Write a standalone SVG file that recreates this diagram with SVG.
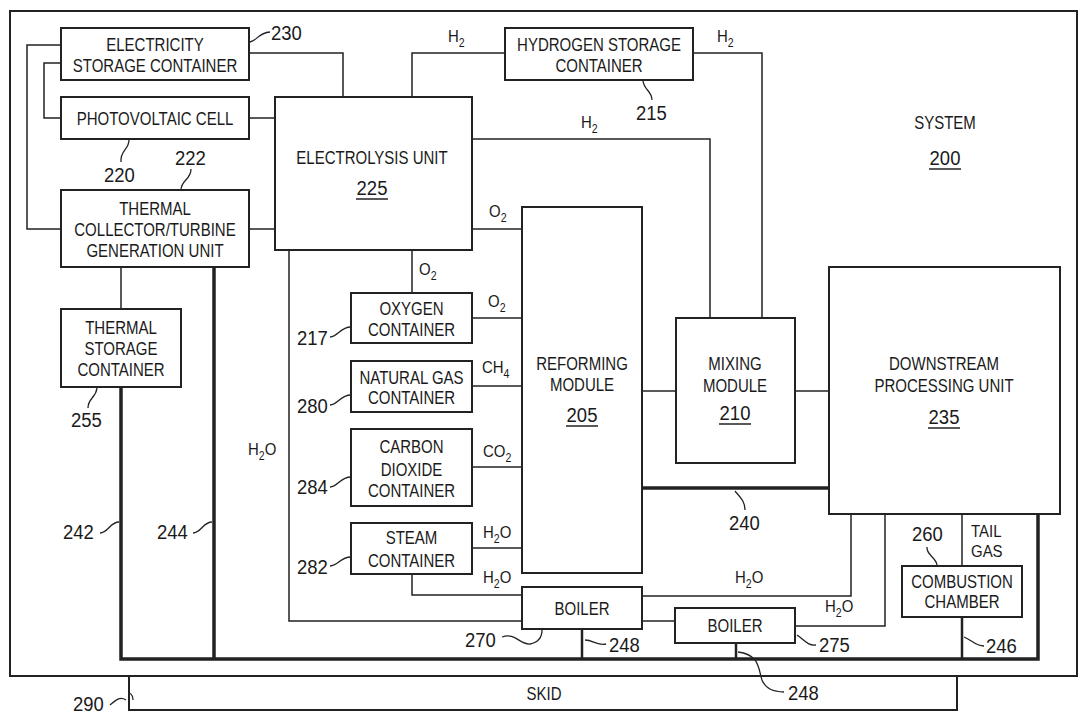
<svg xmlns="http://www.w3.org/2000/svg" width="1084" height="722" viewBox="0 0 1084 722">
<style>
text{font-family:"Liberation Sans",Arial,sans-serif;fill:#1a1a1a}
.t{font-size:19px;text-anchor:middle}
.n{font-size:21px}
.nc{font-size:21px;text-anchor:middle}
.g{font-size:17px}
.s{font-size:12px}
.box{fill:#fff;stroke:#222;stroke-width:2}
.ln{fill:none;stroke:#222;stroke-width:1.5}
.th{fill:none;stroke:#222;stroke-width:3.5}
.md{fill:none;stroke:#222;stroke-width:2.5}
.sq{fill:none;stroke:#222;stroke-width:1.3}
.ul{stroke:#222;stroke-width:1.5}
</style>
<rect width="1084" height="722" fill="#fff"/>
<g id="system">
<rect x="10" y="11" width="1067" height="665" fill="none" stroke="#222" stroke-width="2"/>
<text class="t" transform="translate(945 129) scale(.79 1)">SYSTEM</text>
<text class="nc" transform="translate(945 165) scale(.88 1)">200</text>
<line class="ul" x1="929" y1="169" x2="961" y2="169"/>
</g>
<g id="connectors">
<path class="ln" d="M61,45 H27 V229 H61"/>
<path class="ln" d="M61,63 H44 V118 H61"/>
<path class="ln" d="M249,53 H343 V97"/>
<path class="ln" d="M249,118 H275"/>
<path class="ln" d="M249,229 H275"/>
<path class="ln" d="M412,97 V53 H505"/>
<path class="ln" d="M693,53 H762 V318"/>
<path class="ln" d="M472,139 H710 V318"/>
<path class="ln" d="M472,229 H522"/>
<path class="ln" d="M412,250 V293"/>
<path class="ln" d="M472,318 H522"/>
<path class="ln" d="M472,386 H522"/>
<path class="ln" d="M472,467 H522"/>
<path class="ln" d="M472,548 H522"/>
<path class="ln" d="M412,574 V595 H522"/>
<path class="ln" d="M289,250 V621 H522"/>
<path class="ln" d="M642,391 H676"/>
<path class="ln" d="M795,391 H829"/>
<path class="th" d="M642,488 H829"/>
<path class="ln" d="M642,596 H851 V514"/>
<path class="ln" d="M642,621 H675"/>
<path class="ln" d="M795,626 H885 V514"/>
<path class="ln" d="M962,514 V566"/>
<path class="ln" d="M121,267 V309"/>
<path class="th" d="M214,267 V659"/>
<path class="th" d="M121,387 V659 H1038 V514"/>
<path class="md" d="M582,629 V659"/>
<path class="md" d="M736,643 V659"/>
<path class="md" d="M962,617 V659"/>
</g>
<g id="labels">
<text class="g" transform="translate(448 42) scale(.88 1)">H<tspan class="s" dy="5">2</tspan></text>
<text class="g" transform="translate(717 42) scale(.88 1)">H<tspan class="s" dy="5">2</tspan></text>
<text class="g" transform="translate(581 128) scale(.88 1)">H<tspan class="s" dy="5">2</tspan></text>
<text class="g" transform="translate(489 217) scale(.88 1)">O<tspan class="s" dy="5">2</tspan></text>
<text class="g" transform="translate(419 275) scale(.88 1)">O<tspan class="s" dy="5">2</tspan></text>
<text class="g" transform="translate(488 307) scale(.88 1)">O<tspan class="s" dy="5">2</tspan></text>
<text class="g" transform="translate(482 373) scale(.88 1)">CH<tspan class="s" dy="5">4</tspan></text>
<text class="g" transform="translate(483 457) scale(.88 1)">CO<tspan class="s" dy="5">2</tspan></text>
<text class="g" transform="translate(483 538) scale(.88 1)">H<tspan class="s" dy="5">2</tspan><tspan dy="-5">O</tspan></text>
<text class="g" transform="translate(483 583) scale(.88 1)">H<tspan class="s" dy="5">2</tspan><tspan dy="-5">O</tspan></text>
<text class="g" transform="translate(735 583) scale(.88 1)">H<tspan class="s" dy="5">2</tspan><tspan dy="-5">O</tspan></text>
<text class="g" transform="translate(825 612) scale(.88 1)">H<tspan class="s" dy="5">2</tspan><tspan dy="-5">O</tspan></text>
<text class="g" transform="translate(248 455) scale(.88 1)">H<tspan class="s" dy="5">2</tspan><tspan dy="-5">O</tspan></text>
<text class="g" transform="translate(971 537) scale(.88 1)">TAIL</text>
<text class="g" transform="translate(971 557) scale(.88 1)">GAS</text>
</g>
<g id="refs">
<text class="n" transform="translate(271 40) scale(.88 1)">230</text><path class="sq" d="M250,42 C258,40 258,33 270,32"/>
<text class="n" transform="translate(104 182) scale(.88 1)">220</text><path class="sq" d="M129,140 C129,150 120,150 121,162"/>
<text class="n" transform="translate(175 165) scale(.88 1)">222</text><path class="sq" d="M191,169 C191,180 181,180 181,190"/>
<text class="n" transform="translate(636 120) scale(.88 1)">215</text><path class="sq" d="M643,81 C644,90 652,91 652,100"/>
<text class="n" transform="translate(71 427) scale(.88 1)">255</text><path class="sq" d="M97,388 C96,398 88,398 88,408"/>
<text class="n" transform="translate(297 345) scale(.88 1)">217</text><path class="sq" d="M330,337 C338,337 340,327 351,327"/>
<text class="n" transform="translate(297 413) scale(.88 1)">280</text><path class="sq" d="M330,405 C338,405 340,395 351,395"/>
<text class="n" transform="translate(297 494) scale(.88 1)">284</text><path class="sq" d="M330,487 C338,487 340,477 351,477"/>
<text class="n" transform="translate(297 574) scale(.88 1)">282</text><path class="sq" d="M330,566 C338,566 340,557 351,557"/>
<text class="n" transform="translate(63 539) scale(.88 1)">242</text><path class="sq" d="M100,533 C108,533 110,522 119,522"/>
<text class="n" transform="translate(157 539) scale(.88 1)">244</text><path class="sq" d="M193,533 C201,533 203,522 212,522"/>
<text class="n" transform="translate(729 530) scale(.88 1)">240</text><path class="sq" d="M735,491 C740,497 745,501 745,510"/>
<text class="n" transform="translate(465 647) scale(.88 1)">270</text><path class="sq" d="M502,637 C515,632 520,645 530,644 C540,642 542,636 542,630"/>
<text class="n" transform="translate(609 652) scale(.88 1)">248</text><path class="sq" d="M585,640 C593,640 598,646 606,644"/>
<text class="n" transform="translate(819 652) scale(.88 1)">275</text><path class="sq" d="M797,635 C804,640 808,646 816,645"/>
<text class="n" transform="translate(788 700) scale(.88 1)">248</text><path class="sq" d="M738,652 C760,655 758,668 762,680 C766,690 776,692 784,692"/>
<text class="n" transform="translate(912 541) scale(.88 1)">260</text><path class="sq" d="M927,547 C926,555 936,557 937,565"/>
<text class="n" transform="translate(986 653) scale(.88 1)">246</text><path class="sq" d="M964,637 C972,640 975,646 984,646"/>
<text class="n" transform="translate(73 711) scale(.88 1)">290</text><path class="sq" d="M110,705 C116,700 120,696 126,700 M129,693 C132,694 133,696 133,700"/>
</g>
<g id="n230"><rect class="box" x="61" y="28" width="188" height="52"/><text class="t" transform="translate(155 51) scale(.79 1)">ELECTRICITY</text><text class="t" transform="translate(155 72) scale(.79 1)">STORAGE CONTAINER</text></g>
<g id="n220"><rect class="box" x="61" y="97" width="188" height="42"/><text class="t" transform="translate(155 125) scale(.79 1)">PHOTOVOLTAIC CELL</text></g>
<g id="n222"><rect class="box" x="61" y="190" width="188" height="77"/><text class="t" transform="translate(155 215) scale(.79 1)">THERMAL</text><text class="t" transform="translate(155 236) scale(.79 1)">COLLECTOR/TURBINE</text><text class="t" transform="translate(155 257) scale(.79 1)">GENERATION UNIT</text></g>
<g id="n255"><rect class="box" x="61" y="309" width="120" height="78"/><text class="t" transform="translate(121 334) scale(.79 1)">THERMAL</text><text class="t" transform="translate(121 355) scale(.79 1)">STORAGE</text><text class="t" transform="translate(121 376) scale(.79 1)">CONTAINER</text></g>
<g id="n225"><rect class="box" x="275" y="97" width="197" height="153"/><text class="t" transform="translate(372 164) scale(.79 1)">ELECTROLYSIS UNIT</text><text class="nc" transform="translate(372 195) scale(.88 1)">225</text><line class="ul" x1="356" y1="199" x2="388" y2="199"/></g>
<g id="n215"><rect class="box" x="505" y="28" width="188" height="52"/><text class="t" transform="translate(599 51) scale(.79 1)">HYDROGEN STORAGE</text><text class="t" transform="translate(599 72) scale(.79 1)">CONTAINER</text></g>
<g id="n217"><rect class="box" x="351" y="293" width="121" height="50"/><text class="t" transform="translate(411.5 315) scale(.79 1)">OXYGEN</text><text class="t" transform="translate(411.5 336) scale(.79 1)">CONTAINER</text></g>
<g id="n280"><rect class="box" x="351" y="361" width="121" height="51"/><text class="t" transform="translate(411.5 384) scale(.79 1)">NATURAL GAS</text><text class="t" transform="translate(411.5 404) scale(.79 1)">CONTAINER</text></g>
<g id="n284"><rect class="box" x="351" y="429" width="121" height="77"/><text class="t" transform="translate(411.5 453) scale(.79 1)">CARBON</text><text class="t" transform="translate(411.5 476) scale(.79 1)">DIOXIDE</text><text class="t" transform="translate(411.5 497) scale(.79 1)">CONTAINER</text></g>
<g id="n282"><rect class="box" x="351" y="523" width="121" height="51"/><text class="t" transform="translate(411.5 544) scale(.79 1)">STEAM</text><text class="t" transform="translate(411.5 567) scale(.79 1)">CONTAINER</text></g>
<g id="n205"><rect class="box" x="522" y="207" width="120" height="366"/><text class="t" transform="translate(582 370) scale(.79 1)">REFORMING</text><text class="t" transform="translate(582 391) scale(.79 1)">MODULE</text><text class="nc" transform="translate(582 422) scale(.88 1)">205</text><line class="ul" x1="566" y1="426" x2="598" y2="426"/></g>
<g id="n210"><rect class="box" x="676" y="318" width="119" height="145"/><text class="t" transform="translate(735 370) scale(.79 1)">MIXING</text><text class="t" transform="translate(735 392) scale(.79 1)">MODULE</text><text class="nc" transform="translate(735 420) scale(.88 1)">210</text><line class="ul" x1="719" y1="424" x2="751" y2="424"/></g>
<g id="n235"><rect class="box" x="829" y="267" width="231" height="247"/><text class="t" transform="translate(944 370) scale(.79 1)">DOWNSTREAM</text><text class="t" transform="translate(944 392) scale(.79 1)">PROCESSING UNIT</text><text class="nc" transform="translate(944 424) scale(.88 1)">235</text><line class="ul" x1="928" y1="428" x2="960" y2="428"/></g>
<g id="n270"><rect class="box" x="522" y="587" width="120" height="42"/><text class="t" transform="translate(582 615) scale(.79 1)">BOILER</text></g>
<g id="n275"><rect class="box" x="675" y="608" width="120" height="35"/><text class="t" transform="translate(735 632) scale(.79 1)">BOILER</text></g>
<g id="n260"><rect class="box" x="902" y="566" width="120" height="51"/><text class="t" transform="translate(962 588) scale(.79 1)">COMBUSTION</text><text class="t" transform="translate(962 608) scale(.79 1)">CHAMBER</text></g>
<g id="n290"><rect x="129" y="676" width="828" height="34" fill="none" stroke="#222" stroke-width="2"/><text class="t" transform="translate(544 700) scale(.79 1)">SKID</text></g>
</svg>
